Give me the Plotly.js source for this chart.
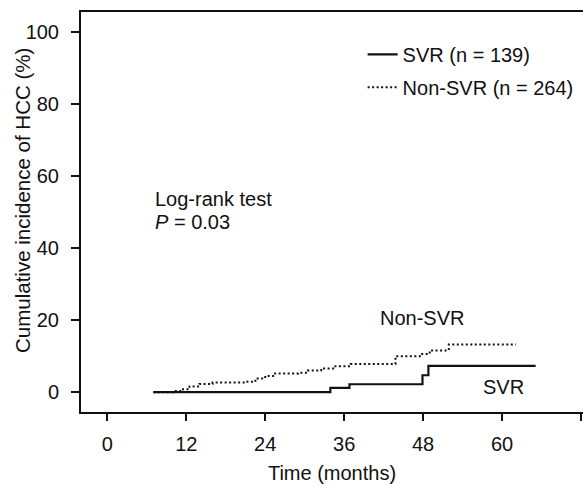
<!DOCTYPE html>
<html>
<head>
<meta charset="utf-8">
<script src="https://cdn.plot.ly/plotly-3.0.1.min.js"></script>
<style>html,body{margin:0;padding:0;background:#fff;}#chart{width:583px;height:484px;}</style>
</head>
<body>
<div id="chart"></div>
<script>
// Data
var svrMonths = [7, 33.9, 36.8, 47.9, 48.8, 65.1];
var svrIncidence = [0, 1.2, 2.2, 4.7, 7.3, 7.3];
var nonSvrMonths = [7, 10, 11.5, 12.5, 14, 16, 21, 22.5, 24, 25.5, 29, 30.5, 32.5, 34.5, 37, 43.8, 47.5, 49, 51.9, 62.1];
var nonSvrIncidence = [0, 0.3, 0.8, 1.6, 2.3, 2.7, 2.9, 3.8, 4.5, 5.2, 5.4, 6.0, 6.6, 7.2, 7.8, 10.0, 10.6, 11.6, 13.2, 13.2];
var xTickVals = [0, 12, 24, 36, 48, 60, 72];
var xTickText = ['0', '12', '24', '36', '48', '60', ''];
var yTickVals = [0, 20, 40, 60, 80, 100];

var fam = 'Liberation Sans, Arial, Helvetica, sans-serif';
var font = {family: fam, size: 20, color: '#111'};
var yTitleFont = {family: fam, size: 20.5, color: '#111'};

var traces = [
  {x: svrMonths, y: svrIncidence, mode: 'lines', name: 'SVR (n = 139)', legendgroup: 'a',
   line: {shape: 'hv', color: '#111', width: 2.2}},
  {x: nonSvrMonths, y: nonSvrIncidence, mode: 'lines', name: 'Non-SVR (n = 264)', legendgroup: 'b',
   line: {shape: 'hv', color: '#111', width: 2, dash: '2px,2.5px'}}
];

var layout = {
  width: 583, height: 484,
  margin: {l: 81, r: 0, t: 12, b: 72},
  paper_bgcolor: '#fff', plot_bgcolor: '#fff',
  font: font,
  showlegend: true,
  legend: {x: 0.561, y: 0.943, xanchor: 'left', yanchor: 'top', bgcolor: 'rgba(0,0,0,0)',
           font: font, itemwidth: 30, traceorder: 'grouped', tracegroupgap: 4},
  xaxis: {range: [-4, 72.3], tickvals: xTickVals, ticktext: xTickText,
          showgrid: false, zeroline: false, showline: true, linecolor: '#111', linewidth: 2,
          mirror: true, ticks: 'outside', ticklen: 7, tickwidth: 2, tickcolor: '#111',
          ticklabelstandoff: 6, tickfont: font,
          title: {text: 'Time (months)', font: font, standoff: 14}},
  yaxis: {range: [-5.5, 105.5], tickvals: yTickVals,
          showgrid: false, zeroline: false, showline: true, linecolor: '#111', linewidth: 2,
          ticks: 'outside', ticklen: 8, tickwidth: 2, tickcolor: '#111',
          ticklabelstandoff: 8, tickfont: font},
  annotations: [
    {xref: 'paper', yref: 'paper', x: (22 - 81) / 502, y: (412 - 201) / 400, xanchor: 'center', yanchor: 'middle',
     text: 'Cumulative incidence of HCC (%)', textangle: -90, showarrow: false, font: yTitleFont},
    {xref: 'paper', yref: 'paper', x: (153 - 81) / 502, y: (412 - 199) / 400, xanchor: 'left', yanchor: 'middle',
     text: 'Log-rank test', showarrow: false, font: font},
    {xref: 'paper', yref: 'paper', x: (153 - 81) / 502, y: (412 - 222) / 400, xanchor: 'left', yanchor: 'middle',
     text: '<i>P</i> = 0.03', showarrow: false, font: font},
    {xref: 'paper', yref: 'paper', x: (422 - 81) / 502, y: (412 - 318) / 400, xanchor: 'center', yanchor: 'middle',
     text: 'Non-SVR', showarrow: false, font: font},
    {xref: 'paper', yref: 'paper', x: (503 - 81) / 502, y: (412 - 387) / 400, xanchor: 'center', yanchor: 'middle',
     text: 'SVR', showarrow: false, font: font}
  ]
};

Plotly.newPlot('chart', traces, layout, {displayModeBar: false, staticPlot: true});
</script>
</body>
</html>
